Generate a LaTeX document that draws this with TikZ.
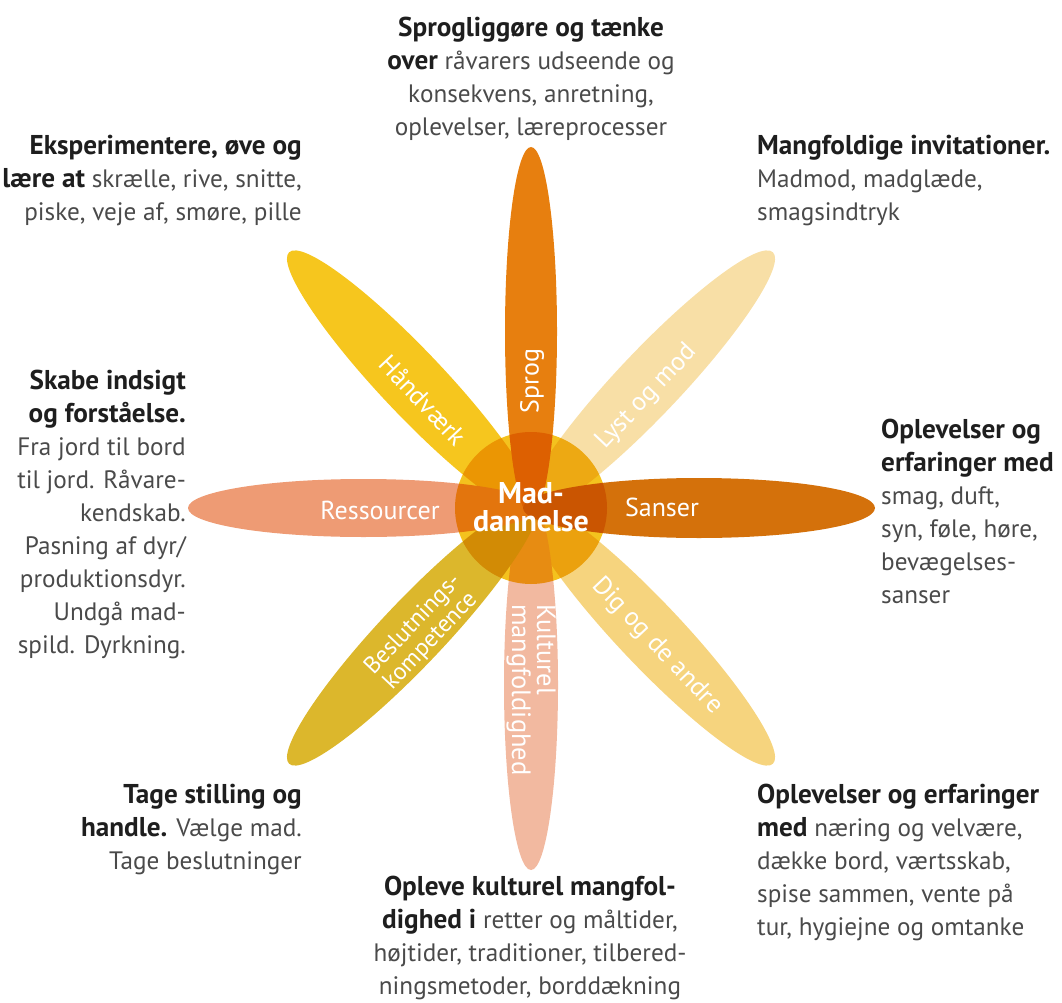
\documentclass[tikz,border=0pt]{standalone}
\usepackage{fontspec}
\setmainfont{PT Sans}
\usetikzlibrary{shapes.geometric}
\definecolor{cSprog}{HTML}{E77F0F}
\definecolor{cSanser}{HTML}{D4710B}
\definecolor{cRes}{HTML}{EE9B74}
\definecolor{cKul}{HTML}{F2B9A0}
\definecolor{cHaand}{HTML}{F6C61E}
\definecolor{cLyst}{HTML}{F8DFA6}
\definecolor{cDig}{HTML}{F6D47E}
\definecolor{cBes}{HTML}{DCB72C}
\definecolor{cCenter}{HTML}{F4C21E}
\definecolor{txtbold}{HTML}{1E1E1E}
\definecolor{txtreg}{HTML}{4A4A4A}
\newcommand{\hdx}[1]{{\fontsize{27.2}{33}\selectfont\bfseries\color{txtbold}#1}}
\begin{document}
\begin{tikzpicture}[x=1pt,y=-1pt,
  petal/.style={ellipse, inner sep=0pt, draw=none},
  lbl/.style={text=white, font=\fontsize{26}{29}\selectfont, inner sep=0pt},
  desc/.style={font=\fontsize{25.2}{33}\selectfont, text=txtreg, inner sep=0pt}
]
\useasboundingbox (0,0) rectangle (1062,1003);
\node[petal, fill=cLyst, minimum width=360, minimum height=64, rotate=46.6] (pLyst) at (649.2,383) {};
\node[petal, fill=cDig, minimum width=360, minimum height=64, rotate=-46.6] (pDig) at (649.2,633) {};
\node[petal, fill=cKul, minimum width=370, minimum height=54, rotate=90] (pKul) at (531,685) {};
\node[petal, fill=cBes, minimum width=360, minimum height=64, rotate=46.6] (pBes) at (412.8,633) {};
\node[petal, fill=cHaand, minimum width=360, minimum height=64, rotate=-46.6] (pHaand) at (412.8,383) {};
\node[petal, fill=cRes, minimum width=351, minimum height=58] (pRes) at (363.5,508) {};
\node[petal, fill=cSprog, minimum width=369, minimum height=52, rotate=90] (pSprog) at (531,331.5) {};
\node[petal, fill=cSanser, minimum width=352, minimum height=60] (pSanser) at (699,508) {};
\begin{scope}[blend mode=multiply]
\node[circle, fill=cCenter, minimum size=152, inner sep=0pt] (center) at (531,508) {};
\end{scope}

% petal labels
\node[lbl] (lRes) at (380,510) {Ressourcer};
\node[lbl] (lSanser) at (662,507) {Sanser};
\node[lbl, rotate=90] (lSprog) at (532,381) {Sprog};
\node[lbl, rotate=-90, anchor=west, align=left, font=\fontsize{26.5}{25}\selectfont] (lKul) at (531,604) {Kulturel\\mangfoldighed};
\node[lbl, rotate=-46.6] (lHaand) at (423,400) {Håndværk};
\node[lbl, rotate=46.6] (lLyst) at (647,397) {Lyst og mod};
\node[lbl, rotate=46.6, align=center, font=\fontsize{24}{24}\selectfont] (lBes) at (422,633) {Beslutnings-\\kompetence};
\node[lbl, rotate=-46.6] (lDig) at (657,646) {Dig og de andre};
\node[lbl, font=\bfseries\fontsize{30}{28}\selectfont, align=center] (lCenter) at (531,507) {Mad-\\dannelse};

% descriptions
\node[desc, anchor=north, align=center] (tTop) at (531,17)
 {\hdx{Sprogliggøre og tænke}\\\hdx{over} råvarers udseende og\\konsekvens, anretning,\\oplevelser, læreprocesser};
\node[desc, anchor=north east, align=right] (tUL) at (302,135)
 {\hdx{Eksperimentere, øve og}\\\hdx{lære at} skrælle, rive, snitte,\\piske, veje af, smøre, pille};
\node[desc, anchor=north west, align=left] (tUR) at (757,135)
 {\hdx{Mangfoldige invitationer.}\\Madmod, madglæde,\\smagsindtryk};
\node[desc, anchor=north east, align=right] (tL) at (186,370)
 {\hdx{Skabe indsigt}\\\hdx{og forståelse.}\\Fra jord til bord\\til jord. Råvare-\\kendskab.\\Pasning af dyr/\\produktionsdyr.\\Undgå mad-\\spild. Dyrkning.};
\node[desc, anchor=north west, align=left] (tR) at (881,419)
 {\hdx{Oplevelser og}\\\hdx{erfaringer med}\\smag, duft,\\syn, føle, høre,\\bevægelses-\\sanser};
\node[desc, anchor=north east, align=right] (tLL) at (302,784)
 {\hdx{Tage stilling og}\\\hdx{handle.} Vælge mad.\\Tage beslutninger};
\node[desc, anchor=north west, align=left] (tLR) at (757,784)
 {\hdx{Oplevelser og erfaringer}\\\hdx{med} næring og velvære,\\dække bord, værtsskab,\\spise sammen, vente på\\tur, hygiejne og omtanke};
\node[desc, anchor=north, align=center] (tB) at (530,876)
 {\hdx{Opleve kulturel mangfol-}\\\hdx{dighed i} retter og måltider,\\højtider, traditioner, tilbered-\\ningsmetoder, borddækning};
\end{tikzpicture}
\end{document}
